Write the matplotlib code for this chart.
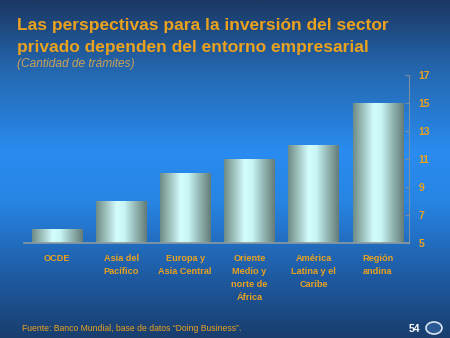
import numpy as np
import matplotlib
matplotlib.use("Agg")
import matplotlib.pyplot as plt
from matplotlib.colors import LinearSegmentedColormap

# Cantidad de trámites por región
regiones = ["OCDE", "Asia del\nPacífico", "Europa y\nAsia Central",
            "Oriente\nMedio y\nnorte de\nÁfrica", "América\nLatina y el\nCaribe",
            "Región\nandina"]
tramites = [6, 8, 10, 11, 12, 15]
yticks = [5, 7, 9, 11, 13, 15, 17]

naranja = "#eaa21e"

fig = plt.figure(figsize=(4.5, 3.38), dpi=100)

# fondo degradado azul
bg = fig.add_axes([0, 0, 1, 1])
bg_cmap = LinearSegmentedColormap.from_list(
    "fondo", [(0.0, "#1b3763"), (0.2, "#2466ad"), (0.45, "#2a8cf0"),
              (0.6, "#2784e2"), (0.8, "#1f5ea8"), (1.0, "#193e6e")])
bg.imshow(np.linspace(0, 1, 256).reshape(-1, 1), aspect="auto", cmap=bg_cmap,
          extent=(0, 1, 0, 1), origin="upper")
bg.set_xlim(0, 1)
bg.set_ylim(0, 1)
bg.axis("off")

ax = fig.add_axes([24 / 450, 1 - 243 / 338, 385 / 450, 168 / 338])
ax.patch.set_alpha(0)

# barras cilíndricas
cyl = LinearSegmentedColormap.from_list(
    "cil", [(0.0, "#6f8d88"), (0.15, "#93b5b0"), (0.4, "#d2fdfd"),
            (0.55, "#c9f6f6"), (0.8, "#8fb1ad"), (1.0, "#647e7a")])
grad = np.linspace(0, 1, 100).reshape(1, -1)
w = 0.78
for i, v in enumerate(tramites):
    ax.imshow(grad, cmap=cyl, aspect="auto", extent=(i - w / 2, i + w / 2, 5, v),
              interpolation="bilinear", zorder=2)

ax.set_xlim(-0.515, 5.49)
ax.set_ylim(5, 17)

for s in ["top", "left"]:
    ax.spines[s].set_visible(False)
ax.spines["right"].set_color("#7d8f9c")
ax.spines["bottom"].set_color("#8c9aa0")
ax.spines["bottom"].set_linewidth(1.2)

ax.yaxis.tick_right()
ax.set_yticks(yticks)
ax.tick_params(axis="y", direction="in", length=3, color="#7d8f9c", pad=7,
               labelsize=7.5, labelcolor=naranja)
ax.set_xticks(range(len(regiones)))
ax.set_xticklabels(regiones, linespacing=1.55)
ax.tick_params(axis="x", length=0, pad=8, labelsize=6.6, labelcolor=naranja)
for lbl in ax.get_xticklabels() + ax.get_yticklabels():
    lbl.set_fontweight("bold")
    lbl.set_fontfamily("Liberation Sans")

# títulos
fig.text(17 / 450, 1 - 30 / 338, "Las perspectivas para la inversión del sector",
         color=naranja, fontsize=12.5, fontweight="bold", family="Liberation Sans",
         va="baseline")
fig.text(17 / 450, 1 - 52 / 338, "privado dependen del entorno empresarial",
         color=naranja, fontsize=12.5, fontweight="bold", family="Liberation Sans",
         va="baseline")
fig.text(17 / 450, 1 - 67 / 338, "(Cantidad de trámites)", color="#c9a25a",
         fontsize=8.6, style="italic", family="Liberation Sans", va="baseline")

# pie
fig.text(22 / 450, 1 - 331 / 338, "Fuente: Banco Mundial, base de datos \u201cDoing Business\u201d.",
         color=naranja, fontsize=6.2, family="Liberation Sans")
fig.text(409 / 450, 1 - 332 / 338, "54", color="white", fontsize=7.5,
         fontweight="bold", family="Liberation Sans")
bg.add_patch(plt.Circle((434 / 450, 1 - 328 / 338), 8 / 450, transform=bg.transAxes,
                        facecolor="#2c5a94", edgecolor="#d8e4f0", lw=1.2))

fig.savefig("out.png", dpi=100)
